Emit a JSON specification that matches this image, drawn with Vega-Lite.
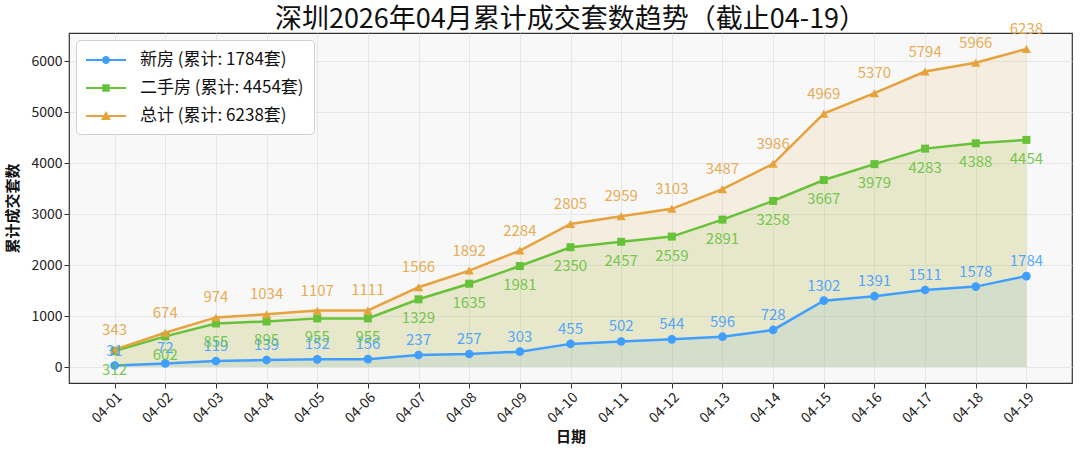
{
  "$schema": "https://vega.github.io/schema/vega-lite/v6.json",
  "autosize": "none",
  "width": 1003,
  "height": 350,
  "padding": {"left": 69, "top": 33, "right": 8, "bottom": 74},
  "background": "white",
  "title": {
    "text": "深圳2026年04月累计成交套数趋势（截止04-19）",
    "frame": "group",
    "fontSize": 27,
    "fontWeight": "normal",
    "color": "#111",
    "anchor": "middle",
    "offset": 3,
    "dy": 15
  },
  "config": {
    "font": "Noto Sans CJK SC",
    "view": {"fill": "#f8f8f8", "stroke": "#333", "strokeWidth": 1.2},
    "axis": {
      "labelFontSize": 14,
      "labelColor": "#222",
      "titleFontSize": 15,
      "titleFontWeight": "bold",
      "titleColor": "#111",
      "gridColor": "#e2e2e2",
      "gridWidth": 0.8,
      "domain": false,
      "tickColor": "#333",
      "tickSize": 5
    }
  },
  "data": {
    "values": [
      {"date": "04-01", "type": "新房", "value": 31},
      {"date": "04-02", "type": "新房", "value": 72},
      {"date": "04-03", "type": "新房", "value": 119},
      {"date": "04-04", "type": "新房", "value": 139},
      {"date": "04-05", "type": "新房", "value": 152},
      {"date": "04-06", "type": "新房", "value": 156},
      {"date": "04-07", "type": "新房", "value": 237},
      {"date": "04-08", "type": "新房", "value": 257},
      {"date": "04-09", "type": "新房", "value": 303},
      {"date": "04-10", "type": "新房", "value": 455},
      {"date": "04-11", "type": "新房", "value": 502},
      {"date": "04-12", "type": "新房", "value": 544},
      {"date": "04-13", "type": "新房", "value": 596},
      {"date": "04-14", "type": "新房", "value": 728},
      {"date": "04-15", "type": "新房", "value": 1302},
      {"date": "04-16", "type": "新房", "value": 1391},
      {"date": "04-17", "type": "新房", "value": 1511},
      {"date": "04-18", "type": "新房", "value": 1578},
      {"date": "04-19", "type": "新房", "value": 1784},
      {"date": "04-01", "type": "二手房", "value": 312},
      {"date": "04-02", "type": "二手房", "value": 602},
      {"date": "04-03", "type": "二手房", "value": 855},
      {"date": "04-04", "type": "二手房", "value": 895},
      {"date": "04-05", "type": "二手房", "value": 955},
      {"date": "04-06", "type": "二手房", "value": 955},
      {"date": "04-07", "type": "二手房", "value": 1329},
      {"date": "04-08", "type": "二手房", "value": 1635},
      {"date": "04-09", "type": "二手房", "value": 1981},
      {"date": "04-10", "type": "二手房", "value": 2350},
      {"date": "04-11", "type": "二手房", "value": 2457},
      {"date": "04-12", "type": "二手房", "value": 2559},
      {"date": "04-13", "type": "二手房", "value": 2891},
      {"date": "04-14", "type": "二手房", "value": 3258},
      {"date": "04-15", "type": "二手房", "value": 3667},
      {"date": "04-16", "type": "二手房", "value": 3979},
      {"date": "04-17", "type": "二手房", "value": 4283},
      {"date": "04-18", "type": "二手房", "value": 4388},
      {"date": "04-19", "type": "二手房", "value": 4454},
      {"date": "04-01", "type": "总计", "value": 343},
      {"date": "04-02", "type": "总计", "value": 674},
      {"date": "04-03", "type": "总计", "value": 974},
      {"date": "04-04", "type": "总计", "value": 1034},
      {"date": "04-05", "type": "总计", "value": 1107},
      {"date": "04-06", "type": "总计", "value": 1111},
      {"date": "04-07", "type": "总计", "value": 1566},
      {"date": "04-08", "type": "总计", "value": 1892},
      {"date": "04-09", "type": "总计", "value": 2284},
      {"date": "04-10", "type": "总计", "value": 2805},
      {"date": "04-11", "type": "总计", "value": 2959},
      {"date": "04-12", "type": "总计", "value": 3103},
      {"date": "04-13", "type": "总计", "value": 3487},
      {"date": "04-14", "type": "总计", "value": 3986},
      {"date": "04-15", "type": "总计", "value": 4969},
      {"date": "04-16", "type": "总计", "value": 5370},
      {"date": "04-17", "type": "总计", "value": 5794},
      {"date": "04-18", "type": "总计", "value": 5966},
      {"date": "04-19", "type": "总计", "value": 6238}
    ]
  },
  "encoding": {
    "x": {
      "field": "date",
      "type": "ordinal",
      "scale": {"type": "point", "padding": 0.9},
      "axis": {"title": "日期", "labelAngle": -45, "grid": true, "titlePadding": 4}
    },
    "y": {
      "field": "value",
      "type": "quantitative",
      "stack": null,
      "scale": {"domain": [-312, 6550], "nice": false, "zero": false},
      "axis": {"title": "累计成交套数", "format": "d", "values": [0, 1000, 2000, 3000, 4000, 5000, 6000], "titlePadding": 10}
    },
    "color": {
      "field": "type",
      "type": "nominal",
      "scale": {"domain": ["新房", "二手房", "总计"], "range": ["#409EFF", "#67C23A", "#E6A23C"]}
    }
  },
  "layer": [
    {
      "mark": {"type": "area", "fillOpacity": 0.12},
      "encoding": {"y2": {"datum": 0}}
    },
    {
      "mark": {"type": "line", "strokeWidth": 2.5}
    },
    {
      "transform": [{"filter": "datum.type == '新房'"}],
      "mark": {"type": "point", "shape": "circle", "filled": true, "size": 75, "opacity": 1}
    },
    {
      "transform": [{"filter": "datum.type == '二手房'"}],
      "mark": {"type": "point", "shape": "square", "filled": true, "size": 64, "opacity": 1}
    },
    {
      "transform": [{"filter": "datum.type == '总计'"}],
      "mark": {"type": "point", "shape": "triangle-up", "filled": true, "size": 85, "opacity": 1}
    },
    {
      "transform": [{"filter": "datum.type == '新房'"}],
      "mark": {"type": "text", "fontSize": 15, "dy": -15, "fillOpacity": 0.9},
      "encoding": {"text": {"field": "value", "type": "quantitative"}}
    },
    {
      "transform": [{"filter": "datum.type == '二手房'"}],
      "mark": {"type": "text", "fontSize": 15, "dy": 19, "fillOpacity": 0.9},
      "encoding": {"text": {"field": "value", "type": "quantitative"}}
    },
    {
      "transform": [{"filter": "datum.type == '总计'"}],
      "mark": {"type": "text", "fontSize": 15, "dy": -20, "fillOpacity": 0.9},
      "encoding": {"text": {"field": "value", "type": "quantitative"}}
    },
    {
      "transform": [{"filter": "false"}],
      "mark": {"type": "point", "filled": true, "opacity": 1},
      "encoding": {
        "shape": {
          "field": "type",
          "type": "nominal",
          "scale": {
            "domain": ["新房", "二手房", "总计"],
            "range": [
              "M-1,-0.11H3V0.11H-1Z M0.6,0A0.4,0.4 0 1,1 1.4,0A0.4,0.4 0 1,1 0.6,0Z",
              "M-1,-0.11H3V0.11H-1Z M0.62,-0.38H1.38V0.38H0.62Z",
              "M-1,-0.11H3V0.11H-1Z M1,-0.5L1.5,0.4H0.5Z"
            ]
          },
          "legend": {
            "title": null,
            "orient": "top-left",
            "offset": 7,
            "padding": 10,
            "fillColor": "white",
            "strokeColor": "#d0d0d0",
            "cornerRadius": 4,
            "symbolSize": 400,
            "symbolStrokeWidth": 0,
            "symbolOpacity": 1,
            "labelFontSize": 17,
            "labelColor": "#111",
            "labelOffset": 34,
            "labelLimit": 400,
            "rowPadding": 10,
            "labelExpr": "datum.label == '新房' ? '新房 (累计: 1784套)' : datum.label == '二手房' ? '二手房 (累计: 4454套)' : '总计 (累计: 6238套)'",
            "encode": {
              "symbols": {
                "update": {
                  "fill": {"scale": "color", "field": "value"},
                  "stroke": {"value": "transparent"},
                  "opacity": {"value": 1},
                  "fillOpacity": {"value": 1}
                }
              }
            }
          }
        }
      }
    }
  ]
}
